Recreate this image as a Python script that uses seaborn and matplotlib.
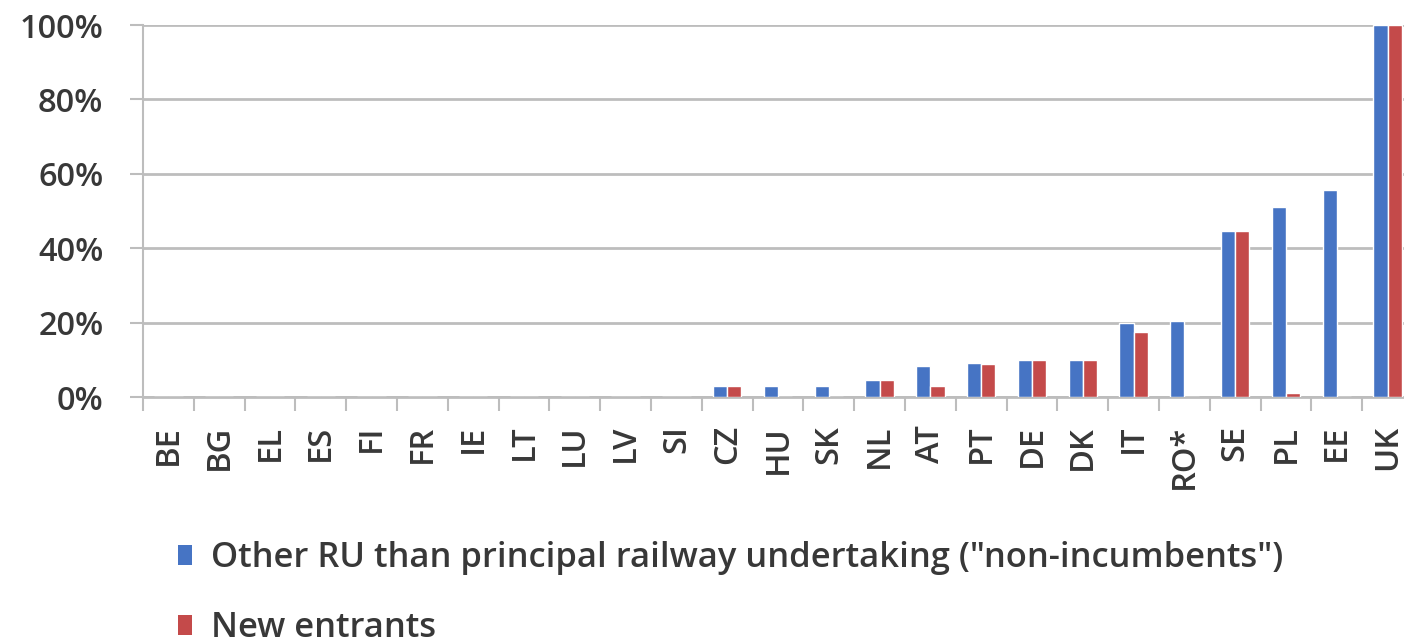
import matplotlib
matplotlib.use("Agg")
import matplotlib.pyplot as plt
from matplotlib.patches import Patch
from matplotlib.ticker import PercentFormatter, FixedLocator
import numpy as np
import pandas as pd
import seaborn as sns

# Share of rail passenger market held by operators other than the incumbent
countries = ["BE", "BG", "EL", "ES", "FI", "FR", "IE", "LT", "LU", "LV", "SI",
             "CZ", "HU", "SK", "NL", "AT", "PT", "DE", "DK", "IT", "RO*",
             "SE", "PL", "EE", "UK"]
non_incumbents = [0, 0, 0, 0, 0, 0, 0, 0, 0, 0, 0,
                  3, 3, 3, 4.6, 8.2, 9.2, 10, 10, 19.9, 20.4,
                  44.7, 51, 55.6, 100]
new_entrants = [0, 0, 0, 0, 0, 0, 0, 0, 0, 0, 0,
                3, 0, 0, 4.6, 3, 8.9, 10, 10, 17.6, 0,
                44.5, 1.2, 0, 100]
series_names = ['Other RU than principal railway undertaking ("non-incumbents")',
                "New entrants"]
y_ticks = [0, 20, 40, 60, 80, 100]

df = pd.DataFrame({
    "country": countries * 2,
    "share": non_incumbents + new_entrants,
    "series": [series_names[0]] * len(countries) + [series_names[1]] * len(countries),
})

BLUE = "#4674C4"
RED = "#C44A4A"
GRID = "#BDBDBD"
TEXT = "#383838"
FONT = "Open Sans"
FS = 23.5
FS_LEG = 24.8

sns.set_theme(style="white")
plt.rcParams["font.family"] = [FONT, "DejaVu Sans"]
plt.rcParams["font.weight"] = "semibold"

W, H = 1404, 643
fig = plt.figure(figsize=(W / 100, H / 100), dpi=100)
left, right, top, bottom = 143, 1413, 25, 397
ax = fig.add_axes([left / W, 1 - bottom / H, (right - left) / W, (bottom - top) / H])

sns.barplot(data=df, x="country", y="share", hue="series", order=countries,
            hue_order=series_names, palette=[BLUE, RED], width=0.56, gap=0,
            saturation=1, legend=False, ax=ax, zorder=3)

ax.set_xlim(-0.5, len(countries) - 0.5)
ax.set_ylim(0, 100)
ax.set_xlabel("")
ax.set_ylabel("")

# y axis: percentage ticks with gridlines extending through outward tick marks
ax.yaxis.set_major_locator(FixedLocator(y_ticks))
ax.yaxis.set_major_formatter(PercentFormatter(100, decimals=0))
ax.yaxis.grid(True, color=GRID, linewidth=2.0, zorder=0)
ax.set_axisbelow(True)
ax.tick_params(axis="y", which="major", left=True, length=9.5, width=1.5,
               color=GRID, pad=19, labelsize=FS, labelcolor=TEXT)

# x axis: rotated country codes, tick marks on category boundaries
ax.tick_params(axis="x", which="major", bottom=False, length=0, pad=20,
               labelsize=FS, labelcolor=TEXT, labelrotation=90)
ax.set_xticks(np.arange(-0.5, len(countries) - 0.4, 1), minor=True)
ax.tick_params(axis="x", which="minor", bottom=True, length=10, width=1.5,
               color=GRID, direction="out")
for lbl in ax.get_xticklabels():
    lbl.set_verticalalignment("top")

for side in ["top", "right"]:
    ax.spines[side].set_visible(False)
ax.spines["left"].set_color(GRID)
ax.spines["left"].set_linewidth(1.5)
ax.spines["bottom"].set_color(GRID)
ax.spines["bottom"].set_linewidth(2.0)

handles = [Patch(facecolor=BLUE, edgecolor="none", label=series_names[0]),
           Patch(facecolor=RED, edgecolor="none", label=series_names[1])]
fig.legend(handles=handles, loc="upper left", bbox_to_anchor=(178 / W, 1 - 541 / H),
           frameon=False, fontsize=FS_LEG, labelcolor=TEXT, borderpad=0,
           borderaxespad=0, handlelength=0.4, handleheight=0.5,
           handletextpad=0.55, labelspacing=1.05)

fig.savefig("out.png", dpi=100, facecolor="white")
